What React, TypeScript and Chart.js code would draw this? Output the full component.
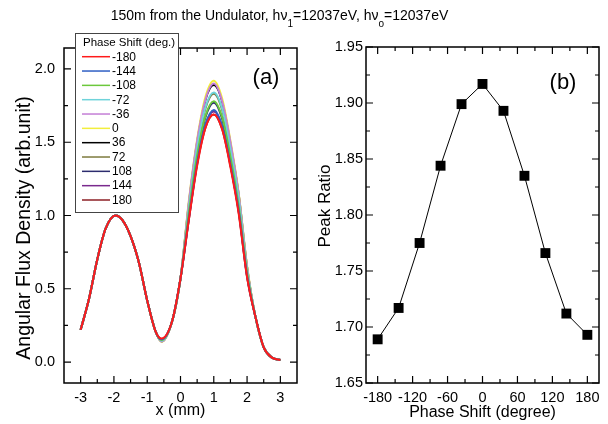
import React, { useEffect, useRef } from "react";
import { Chart, registerables } from "chart.js";

Chart.register(...registerables);

const FONT = '"Liberation Sans", Arial, Helvetica, sans-serif';

// ---------- panel (a) data ----------
const xPositions = [-3, -2.75, -2.5, -2.25, -1.95, -1.75, -1.5, -1.25, -1, -0.75, -0.57, -0.25, 0, 0.25, 0.5, 0.75, 1, 1.25, 1.5, 1.75, 2, 2.25, 2.5, 2.75, 3];

const phaseLabels = ["-180", "-144", "-108", "-72", "-36", "0", "36", "72", "108", "144", "180"];
const seriesColors = ["#ff1a1a", "#2f5fc4", "#6cc83c", "#6fd3da", "#c47fd6", "#f2ee3c", "#000000", "#7d7a3e", "#2c2c6e", "#7a2a8e", "#8c1f24"];

const fluxM180 = [0.22, 0.43, 0.70, 0.91, 1.00, 0.97, 0.86, 0.68, 0.42, 0.21, 0.160, 0.28, 0.57, 0.97, 1.34, 1.60, 1.69, 1.59, 1.33, 1.01, 0.58, 0.31, 0.10, 0.03, 0.014];
const fluxM144 = [0.22, 0.43, 0.70, 0.91, 1.00, 0.97, 0.86, 0.68, 0.42, 0.21, 0.155, 0.28, 0.57, 0.98, 1.36, 1.62, 1.72, 1.61, 1.35, 1.03, 0.59, 0.31, 0.10, 0.03, 0.014];
const fluxM108 = [0.22, 0.43, 0.70, 0.91, 1.00, 0.97, 0.86, 0.68, 0.42, 0.21, 0.150, 0.28, 0.57, 1.02, 1.41, 1.68, 1.78, 1.67, 1.40, 1.06, 0.61, 0.31, 0.10, 0.03, 0.014];
const fluxM72 = [0.22, 0.43, 0.70, 0.91, 1.00, 0.97, 0.86, 0.68, 0.42, 0.21, 0.145, 0.28, 0.57, 1.05, 1.46, 1.74, 1.84, 1.73, 1.45, 1.11, 0.63, 0.31, 0.10, 0.03, 0.014];
const fluxM36 = [0.22, 0.43, 0.70, 0.91, 1.00, 0.97, 0.86, 0.68, 0.42, 0.21, 0.140, 0.28, 0.57, 1.09, 1.51, 1.79, 1.90, 1.78, 1.50, 1.14, 0.65, 0.31, 0.10, 0.03, 0.014];
const flux0 = [0.22, 0.43, 0.70, 0.91, 1.00, 0.97, 0.86, 0.68, 0.42, 0.21, 0.138, 0.28, 0.57, 1.10, 1.52, 1.81, 1.92, 1.80, 1.51, 1.15, 0.66, 0.31, 0.10, 0.03, 0.014];
const flux36 = [0.22, 0.43, 0.70, 0.91, 1.00, 0.97, 0.86, 0.68, 0.42, 0.21, 0.140, 0.28, 0.57, 1.08, 1.50, 1.79, 1.89, 1.78, 1.49, 1.14, 0.65, 0.31, 0.10, 0.03, 0.014];
const flux72 = [0.22, 0.43, 0.70, 0.91, 1.00, 0.97, 0.86, 0.68, 0.42, 0.21, 0.145, 0.28, 0.57, 1.05, 1.46, 1.73, 1.83, 1.72, 1.45, 1.10, 0.63, 0.31, 0.10, 0.03, 0.014];
const flux108 = [0.22, 0.43, 0.70, 0.91, 1.00, 0.97, 0.86, 0.68, 0.42, 0.21, 0.150, 0.28, 0.57, 1.01, 1.40, 1.67, 1.77, 1.66, 1.39, 1.06, 0.61, 0.31, 0.10, 0.03, 0.014];
const flux144 = [0.22, 0.43, 0.70, 0.91, 1.00, 0.97, 0.86, 0.68, 0.42, 0.21, 0.155, 0.28, 0.57, 0.98, 1.36, 1.62, 1.71, 1.61, 1.35, 1.03, 0.59, 0.31, 0.10, 0.03, 0.014];
const flux180 = [0.22, 0.43, 0.70, 0.91, 1.00, 0.97, 0.86, 0.68, 0.42, 0.21, 0.158, 0.28, 0.57, 0.97, 1.35, 1.60, 1.69, 1.59, 1.34, 1.02, 0.58, 0.31, 0.10, 0.03, 0.014];

const fluxSeries = [fluxM180, fluxM144, fluxM108, fluxM72, fluxM36, flux0, flux36, flux72, flux108, flux144, flux180];

const xTicksA = [-3, -2, -1, 0, 1, 2, 3];
const xMinorA = [-2.5, -1.5, -0.5, 0.5, 1.5, 2.5];
const yTicksA = [0, 0.5, 1, 1.5, 2];
const yMinorA = [0.25, 0.75, 1.25, 1.75];

// ---------- panel (b) data ----------
const peakPhase = [-180, -144, -108, -72, -36, 0, 36, 72, 108, 144, 180];
const peakRatio = [1.689, 1.717, 1.775, 1.844, 1.899, 1.917, 1.893, 1.835, 1.766, 1.712, 1.693];

const xTicksB = [-180, -120, -60, 0, 60, 120, 180];
const xMinorB = [-150, -90, -30, 30, 90, 150];
const yTicksB = [1.65, 1.7, 1.75, 1.8, 1.85, 1.9, 1.95];
const yMinorB = [1.675, 1.725, 1.775, 1.825, 1.875, 1.925];

const LEGEND_TITLE = "Phase Shift (deg.)";
const Y_TITLE_A = "Angular Flux Density (arb.unit)";
const Y_TITLE_B = "Peak Ratio";

type FrameCfg = {
  id: string;
  xMajor: number[];
  xMinor: number[];
  yMajor: number[];
  yMinor: number[];
  tag: string;
  tagX: number;
  tagY: number;
  yTitle: string;
  yTitleX: number;
  yTitleY: number;
  yTitleSize: number;
};

function framePlugin(c: FrameCfg) {
  return {
    id: c.id,
    afterDraw(chart: any) {
      const { ctx, chartArea: a, scales } = chart;
      const xs = scales.x;
      const ys = scales.y;
      ctx.save();
      ctx.strokeStyle = "#000";
      ctx.lineWidth = 1.2;
      const MAJ = 7;
      const MIN = 4;
      const vt = (vals: number[], len: number) => {
        vals.forEach((v) => {
          const px = xs.getPixelForValue(v);
          ctx.beginPath();
          ctx.moveTo(px, a.bottom);
          ctx.lineTo(px, a.bottom - len);
          ctx.moveTo(px, a.top);
          ctx.lineTo(px, a.top + len);
          ctx.stroke();
        });
      };
      const ht = (vals: number[], len: number) => {
        vals.forEach((v) => {
          const py = ys.getPixelForValue(v);
          ctx.beginPath();
          ctx.moveTo(a.left, py);
          ctx.lineTo(a.left + len, py);
          ctx.moveTo(a.right, py);
          ctx.lineTo(a.right - len, py);
          ctx.stroke();
        });
      };
      vt(c.xMajor, MAJ);
      vt(c.xMinor, MIN);
      ht(c.yMajor, MAJ);
      ht(c.yMinor, MIN);
      ctx.lineWidth = 1.5;
      ctx.strokeRect(a.left, a.top, a.right - a.left, a.bottom - a.top);
      ctx.fillStyle = "#000";
      ctx.font = `22px ${FONT}`;
      ctx.textAlign = "center";
      ctx.textBaseline = "middle";
      ctx.fillText(c.tag, c.tagX, c.tagY);
      // rotated y-axis title
      ctx.save();
      ctx.translate(c.yTitleX, c.yTitleY);
      ctx.rotate(-Math.PI / 2);
      ctx.font = `${c.yTitleSize}px ${FONT}`;
      ctx.fillText(c.yTitle, 0, 0);
      ctx.restore();
      ctx.restore();
    },
  };
}

const legendPlugin = {
  id: "boxLegend",
  afterDraw(chart: any) {
    const ctx = chart.ctx;
    ctx.save();
    const bx = 75.5, by = 33.5, bw = 103, bh = 179;
    ctx.fillStyle = "#fff";
    ctx.fillRect(bx, by, bw, bh);
    ctx.strokeStyle = "#444";
    ctx.lineWidth = 1;
    ctx.strokeRect(bx, by, bw, bh);
    ctx.fillStyle = "#000";
    ctx.textAlign = "left";
    ctx.textBaseline = "middle";
    ctx.font = `11.5px ${FONT}`;
    ctx.fillText(LEGEND_TITLE, 83, 42.5);
    ctx.font = `12px ${FONT}`;
    phaseLabels.forEach((lab, i) => {
      const y = 56.7 + i * 14.33;
      ctx.strokeStyle = seriesColors[i];
      ctx.lineWidth = 1.5;
      ctx.beginPath();
      ctx.moveTo(82, y);
      ctx.lineTo(110, y);
      ctx.stroke();
      ctx.fillText(lab, 112, y + 0.5);
    });
    ctx.restore();
  },
};

const fixTicks = (vals: number[]) => (s: any) => {
  s.ticks = vals.map((v) => ({ value: v }));
};

export default function App() {
  const refA = useRef<HTMLCanvasElement>(null);
  const refB = useRef<HTMLCanvasElement>(null);

  useEffect(() => {
    Chart.defaults.font.family = FONT;
    Chart.defaults.color = "#000";

    const chartA = new Chart(refA.current as HTMLCanvasElement, {
      type: "line",
      data: {
        datasets: fluxSeries.map((arr, i) => ({
          label: phaseLabels[i],
          data: xPositions.map((x, j) => ({ x, y: arr[j] })),
          borderColor: seriesColors[i],
          backgroundColor: seriesColors[i],
          borderWidth: 2,
          pointRadius: 0,
          cubicInterpolationMode: "monotone" as const,
          fill: false,
        })),
      },
      options: {
        animation: false,
        responsive: false,
        devicePixelRatio: 1,
        layout: { padding: { left: 0, top: 48, right: 13, bottom: 0 } },
        plugins: { legend: { display: false }, tooltip: { enabled: false }, title: { display: false } },
        scales: {
          x: {
            type: "linear",
            min: -3.5,
            max: 3.5,
            afterBuildTicks: fixTicks(xTicksA),
            afterFit: (s: any) => {
              s.height = 41;
              s.paddingLeft = 0;
              s.paddingRight = 0;
            },
            grid: { display: false, drawTicks: false },
            border: { display: false },
            ticks: {
              padding: 6,
              maxRotation: 0,
              autoSkip: false,
              color: "#000",
              font: { size: 14.5 },
              callback: (v: any) => String(v),
            },
            title: { display: true, text: "x (mm)", color: "#000", font: { size: 16 }, padding: { top: 0, bottom: 4 } },
          },
          y: {
            type: "linear",
            min: -0.143,
            max: 2.143,
            afterBuildTicks: fixTicks(yTicksA),
            afterFit: (s: any) => {
              s.width = 64;
              s.paddingTop = 0;
              s.paddingBottom = 0;
            },
            grid: { display: false, drawTicks: false },
            border: { display: false },
            ticks: {
              padding: 9,
              autoSkip: false,
              color: "#000",
              font: { size: 14.5 },
              callback: (v: any) => Number(v).toFixed(1),
            },
            title: { display: false },
          },
        },
      },
      plugins: [
        framePlugin({
          id: "frameA",
          xMajor: xTicksA,
          xMinor: xMinorA,
          yMajor: yTicksA,
          yMinor: yMinorA,
          tag: "(a)",
          tagX: 266,
          tagY: 78,
          yTitle: Y_TITLE_A,
          yTitleX: 24.5,
          yTitleY: 228,
          yTitleSize: 19.5,
        }),
        legendPlugin,
      ],
    } as any);

    const chartB = new Chart(refB.current as HTMLCanvasElement, {
      type: "line",
      data: {
        datasets: [
          {
            label: "Peak Ratio",
            data: peakPhase.map((x, i) => ({ x, y: peakRatio[i] })),
            borderColor: "#000",
            backgroundColor: "#000",
            borderWidth: 1,
            pointStyle: "rect",
            pointRadius: 7,
            pointBorderWidth: 0,
            tension: 0,
            fill: false,
          },
        ],
      },
      options: {
        animation: false,
        responsive: false,
        devicePixelRatio: 1,
        layout: { padding: { left: 0, top: 47, right: 9, bottom: 0 } },
        plugins: { legend: { display: false }, tooltip: { enabled: false }, title: { display: false } },
        scales: {
          x: {
            type: "linear",
            min: -200,
            max: 200,
            afterBuildTicks: fixTicks(xTicksB),
            afterFit: (s: any) => {
              s.height = 41;
              s.paddingLeft = 0;
              s.paddingRight = 0;
            },
            grid: { display: false, drawTicks: false },
            border: { display: false },
            ticks: {
              padding: 6,
              maxRotation: 0,
              autoSkip: false,
              color: "#000",
              font: { size: 14.5 },
              callback: (v: any) => String(v),
            },
            title: { display: true, text: "Phase Shift (degree)", color: "#000", font: { size: 16 }, padding: { top: 0, bottom: 2 } },
          },
          y: {
            type: "linear",
            min: 1.65,
            max: 1.95,
            afterBuildTicks: fixTicks(yTicksB),
            afterFit: (s: any) => {
              s.width = 60;
              s.paddingTop = 0;
              s.paddingBottom = 0;
            },
            grid: { display: false, drawTicks: false },
            border: { display: false },
            ticks: {
              padding: 3,
              autoSkip: false,
              color: "#000",
              font: { size: 14.5 },
              callback: (v: any) => Number(v).toFixed(2),
            },
            title: { display: false },
          },
        },
      },
      plugins: [
        framePlugin({
          id: "frameB",
          xMajor: xTicksB,
          xMinor: xMinorB,
          yMajor: yTicksB,
          yMinor: yMinorB,
          tag: "(b)",
          tagX: 257,
          tagY: 83,
          yTitle: Y_TITLE_B,
          yTitleX: 19,
          yTitleY: 206,
          yTitleSize: 17,
        }),
      ],
    } as any);

    return () => {
      chartA.destroy();
      chartB.destroy();
    };
  }, []);

  const subStyle: React.CSSProperties = { fontSize: "10px", verticalAlign: "-7px", lineHeight: 0 };

  return (
    <div style={{ position: "absolute", left: 0, top: 0, width: 608, height: 424, overflow: "hidden", background: "#fff" }}>
      <canvas ref={refA} width={310} height={424} style={{ position: "absolute", left: 0, top: 0, width: 310, height: 424 }} />
      <canvas ref={refB} width={302} height={424} style={{ position: "absolute", left: 306, top: 0, width: 302, height: 424 }} />
      <div
        style={{
          position: "absolute",
          left: 0,
          top: 7,
          width: 559,
          textAlign: "center",
          fontFamily: FONT,
          fontSize: "14px",
          lineHeight: "16px",
          whiteSpace: "nowrap",
          color: "#000",
        }}
      >
        150m from the Undulator, hν<sub style={subStyle}>1</sub>=12037eV, hν<sub style={subStyle}>o</sub>=12037eV
      </div>
    </div>
  );
}
